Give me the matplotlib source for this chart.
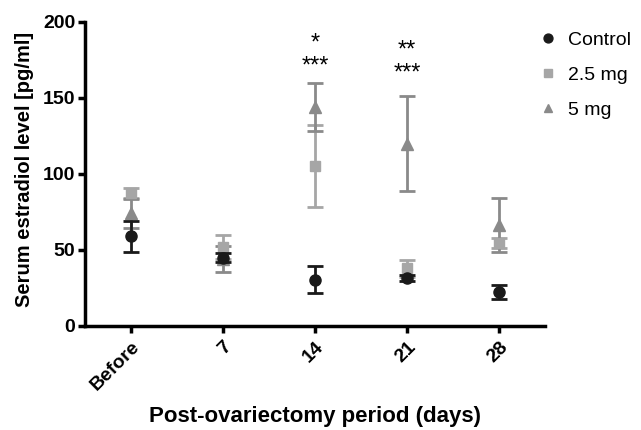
import matplotlib.pyplot as plt
import numpy as np

plt.rcParams['font.family'] = ['Liberation Sans', 'DejaVu Sans']

periods = ['Before', '7', '14', '21', '28']
control = [59, 45, 30.5, 31.5, 22.5]
control_err = [10, 3, 9, 2, 4.5]
low = [87.5, 52, 105, 38, 54.5]
low_err = [3.5, 8, 27, 5.5, 3.3]
high = [74, 44, 144, 120, 66.5]
high_err = [9.5, 8.5, 16, 31, 17.5]

# significance marks: (x index, y, text)
marks = [(2, 186, '*'), (2, 171, '***'), (3, 181, '**'), (3, 166, '***')]

x = np.arange(len(periods))

fig = plt.figure(figsize=(6.41, 4.30), dpi=100)
ax = fig.add_axes([0.1326, 0.2419, 0.7176, 0.707])

ax.errorbar(x, control, yerr=control_err, fmt='o', color='#1a1a1a', ms=8,
            capsize=6, capthick=2, elinewidth=2, label='Control', zorder=3)
ax.errorbar(x, low, yerr=low_err, fmt='s', color='#a6a6a6', ms=7.5,
            capsize=6, capthick=2, elinewidth=2, label='2.5 mg', zorder=2)
ax.errorbar(x, high, yerr=high_err, fmt='^', color='#8a8a8a', ms=8,
            capsize=6, capthick=2, elinewidth=2, label='5 mg', zorder=2)

for xi, yi, t in marks:
    ax.text(xi, yi, t, ha='center', va='center', fontsize=17)

ax.set_xlim(-0.5, 4.5)
ax.set_ylim(0, 200)
ax.set_yticks([0, 50, 100, 150, 200])
ax.set_xticks(x)
ax.set_xticklabels(periods, rotation=45, ha='right', rotation_mode='anchor')
for lab in ax.get_xticklabels() + ax.get_yticklabels():
    lab.set_fontweight('bold')
    lab.set_fontsize(14)

ax.spines['top'].set_visible(False)
ax.spines['right'].set_visible(False)
ax.spines['left'].set_linewidth(2.5)
ax.spines['bottom'].set_linewidth(2.5)
ax.tick_params(width=2.5, length=5, pad=2)
ax.tick_params(axis='x', pad=4)

ax.set_ylabel('Serum estradiol level [pg/ml]', fontsize=14.5, fontweight='bold')
ax.yaxis.set_label_coords(-0.111, 0.515)
ax.set_xlabel('Post-ovariectomy period (days)', fontsize=16, fontweight='bold', va='top')
ax.xaxis.set_label_coords(0.5, -0.262)

h, l = ax.get_legend_handles_labels()
h = [hh[0] for hh in h]
fig.legend(h, l, loc='upper left', bbox_to_anchor=(0.825, 0.949), frameon=False,
           fontsize=14, handlelength=1.0, handletextpad=0.5, borderpad=0,
           labelspacing=0.88, markerscale=0.8)

fig.savefig('out.png', dpi=100)
